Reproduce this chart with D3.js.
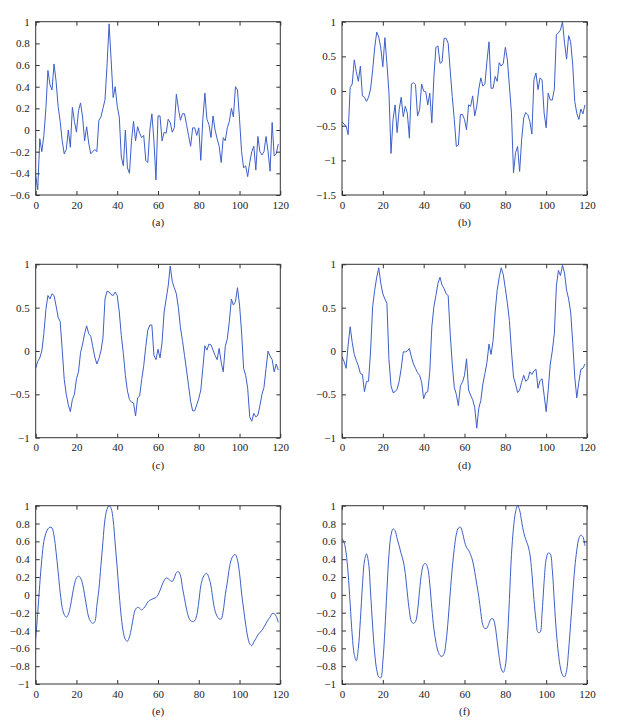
<!DOCTYPE html>
<html><head><meta charset="utf-8">
<script src="https://cdn.jsdelivr.net/npm/d3@7"></script>
<style>body{margin:0;background:#fff}</style>
</head><body>
<svg id="chart" width="622" height="724"></svg>
<script>
const seriesA = [-0.42,-0.55,-0.08,-0.2,-0.05,0.2,0.55,0.42,0.37,0.61,0.45,0.22,0.08,-0.1,-0.22,-0.18,0.0,-0.16,0.21,0.08,
-0.02,0.18,0.25,0.12,-0.1,0.03,-0.12,-0.22,-0.2,-0.18,-0.2,0.09,0.12,0.2,0.28,0.6,0.98,0.65,0.3,0.4,
0.22,0.12,-0.25,-0.33,0.0,-0.35,-0.4,-0.1,0.08,-0.1,0.03,-0.03,-0.07,-0.05,-0.28,-0.3,0.0,0.15,-0.1,-0.46,
0.13,0.13,-0.1,-0.02,-0.03,0.1,0.07,-0.02,0.02,0.33,0.2,0.09,0.15,0.15,0.05,-0.05,-0.15,0.02,0.02,-0.05,
0.02,-0.28,0.1,0.34,0.1,0.05,-0.07,0.13,0.0,-0.08,-0.15,-0.3,-0.07,-0.1,0.02,0.08,0.2,0.12,0.4,0.37,
0.1,-0.2,-0.35,-0.33,-0.43,-0.3,-0.2,-0.15,-0.37,-0.06,-0.2,-0.23,-0.2,-0.06,-0.2,-0.38,0.07,-0.24,-0.22,-0.13];

const seriesB = [-0.44,-0.48,-0.5,-0.63,0.05,0.1,0.45,0.28,0.14,0.36,-0.07,-0.09,-0.15,-0.09,0.03,0.3,0.62,0.85,0.78,0.62,
0.35,0.77,0.4,-0.03,-0.9,-0.41,-0.2,-0.6,-0.27,-0.09,-0.37,-0.22,-0.32,-0.68,0.1,0.12,0.09,-0.36,-0.27,0.1,
0.0,-0.01,-0.2,-0.03,-0.46,0.2,0.63,0.65,0.4,0.42,0.76,0.76,0.69,0.3,-0.08,-0.41,-0.8,-0.78,-0.34,-0.34,
-0.41,-0.56,-0.2,-0.22,-0.07,-0.36,-0.22,0.03,0.19,0.07,0.1,0.43,0.71,0.04,0.04,0.21,0.14,0.41,0.36,0.4,
0.63,0.45,0.07,-0.32,-1.18,-0.89,-0.8,-1.16,-0.7,-0.39,-0.31,-0.34,-0.44,-0.62,0.16,0.26,0.02,0.19,0.16,-0.32,
-0.53,-0.03,-0.13,-0.13,0.03,0.81,0.84,0.88,1.0,0.69,0.46,0.8,0.71,0.38,-0.15,-0.32,-0.41,-0.26,-0.33,-0.2];

const seriesC = [-0.2,-0.12,-0.08,0.0,0.2,0.48,0.64,0.6,0.66,0.64,0.52,0.39,0.34,0.02,-0.33,-0.5,-0.62,-0.7,-0.56,-0.5,
-0.32,-0.24,-0.02,0.08,0.2,0.29,0.2,0.17,0.05,-0.07,-0.15,-0.09,0.0,0.15,0.6,0.69,0.68,0.65,0.64,0.68,
0.64,0.45,0.18,-0.03,-0.28,-0.46,-0.56,-0.59,-0.6,-0.75,-0.54,-0.52,-0.33,-0.17,0.05,0.24,0.3,0.3,-0.05,-0.1,
0.02,-0.08,0.1,0.45,0.6,0.75,0.98,0.8,0.73,0.66,0.5,0.27,0.12,-0.05,-0.22,-0.4,-0.58,-0.69,-0.69,-0.62,
-0.55,-0.45,-0.2,0.06,0.01,0.08,0.07,0.01,-0.05,-0.1,0.03,-0.13,-0.24,0.05,0.14,0.34,0.6,0.53,0.57,0.73,
0.53,0.22,-0.2,-0.28,-0.43,-0.76,-0.81,-0.72,-0.76,-0.74,-0.63,-0.5,-0.42,-0.2,0.0,-0.06,-0.1,-0.24,-0.15,-0.22];

const seriesD = [-0.07,-0.12,-0.2,0.07,0.28,0.1,-0.04,-0.11,-0.17,-0.26,-0.27,-0.47,-0.35,-0.35,0.0,0.51,0.7,0.85,0.96,0.78,
0.66,0.6,0.55,-0.1,-0.4,-0.48,-0.47,-0.44,-0.35,-0.2,-0.01,-0.01,0.0,0.03,-0.07,-0.15,-0.2,-0.25,-0.28,-0.36,
-0.55,-0.48,-0.47,-0.24,0.28,0.51,0.64,0.78,0.85,0.76,0.72,0.66,0.64,0.2,-0.15,-0.42,-0.5,-0.63,-0.4,-0.36,
-0.28,-0.09,-0.45,-0.51,-0.56,-0.65,-0.89,-0.66,-0.57,-0.38,-0.26,-0.13,0.08,-0.04,0.12,0.45,0.7,0.85,0.96,0.88,
0.72,0.55,0.35,0.0,-0.3,-0.38,-0.48,-0.45,-0.36,-0.28,-0.35,-0.33,-0.24,-0.27,-0.23,-0.21,-0.43,-0.34,-0.32,-0.51,
-0.7,-0.45,-0.15,0.0,0.2,0.75,0.93,0.87,0.99,0.9,0.7,0.6,0.45,0.1,-0.3,-0.54,-0.36,-0.21,-0.2,-0.15];

const seriesE = [-0.49,-0.2,0.12,0.4,0.6,0.69,0.74,0.76,0.75,0.66,0.48,0.26,0.03,-0.14,-0.22,-0.25,-0.22,-0.13,0.0,0.12,
0.19,0.21,0.19,0.12,0.0,-0.14,-0.25,-0.3,-0.32,-0.3,-0.12,0.06,0.33,0.6,0.85,0.96,1.0,0.97,0.84,0.57,
0.3,0.0,-0.25,-0.42,-0.5,-0.52,-0.47,-0.37,-0.24,-0.16,-0.14,-0.15,-0.17,-0.15,-0.12,-0.08,-0.06,-0.05,-0.04,-0.03,
0.0,0.05,0.11,0.16,0.19,0.18,0.16,0.15,0.19,0.25,0.26,0.22,0.08,-0.04,-0.16,-0.25,-0.29,-0.3,-0.29,-0.23,
-0.08,0.1,0.19,0.23,0.24,0.19,0.1,-0.06,-0.18,-0.24,-0.27,-0.27,-0.18,0.0,0.14,0.3,0.4,0.44,0.45,0.39,
0.24,0.02,-0.16,-0.33,-0.47,-0.55,-0.57,-0.53,-0.49,-0.45,-0.42,-0.4,-0.36,-0.32,-0.28,-0.25,-0.21,-0.21,-0.24,-0.31];

const seriesF = [0.63,0.59,0.47,0.24,-0.1,-0.45,-0.67,-0.74,-0.6,-0.28,0.1,0.38,0.46,0.36,0.02,-0.35,-0.65,-0.84,-0.92,-0.93,
-0.75,-0.4,0.05,0.45,0.67,0.74,0.72,0.63,0.55,0.46,0.38,0.24,0.02,-0.18,-0.3,-0.32,-0.3,-0.18,0.05,0.25,
0.34,0.35,0.3,0.12,-0.15,-0.38,-0.53,-0.63,-0.68,-0.69,-0.66,-0.52,-0.28,0.02,0.3,0.52,0.68,0.75,0.76,0.7,
0.6,0.53,0.5,0.45,0.38,0.26,0.12,-0.02,-0.2,-0.34,-0.38,-0.37,-0.32,-0.27,-0.27,-0.35,-0.52,-0.7,-0.83,-0.87,
-0.8,-0.5,-0.05,0.45,0.75,0.93,1.0,0.95,0.82,0.7,0.62,0.56,0.46,0.25,-0.05,-0.28,-0.42,-0.42,-0.2,0.15,
0.4,0.47,0.46,0.28,-0.08,-0.42,-0.66,-0.82,-0.9,-0.92,-0.85,-0.62,-0.32,0.0,0.3,0.5,0.63,0.67,0.65,0.55];

const xTicks = [0, 20, 40, 60, 80, 100, 120];
const yTicksA = [-0.6, -0.4, -0.2, 0, 0.2, 0.4, 0.6, 0.8, 1];
const yTicksB = [-1.5, -1, -0.5, 0, 0.5, 1];
const yTicksCD = [-1, -0.5, 0, 0.5, 1];
const yTicksEF = [-1, -0.8, -0.6, -0.4, -0.2, 0, 0.2, 0.4, 0.6, 0.8, 1];
const captions = ["(a)", "(b)", "(c)", "(d)", "(e)", "(f)"];

const svg = d3.select("#chart");
const cols = [{l: 35.7, r: 280.3}, {l: 342, r: 587}];
const rows = [{t: 21.7, b: 195}, {t: 264.3, b: 437.7}, {t: 505.7, b: 684}];
const panels = [
  {data: seriesA, ticks: yTicksA, cap: captions[0], c: 0, r: 0, smooth: false},
  {data: seriesB, ticks: yTicksB, cap: captions[1], c: 1, r: 0, smooth: false},
  {data: seriesC, ticks: yTicksCD, cap: captions[2], c: 0, r: 1, smooth: false},
  {data: seriesD, ticks: yTicksCD, cap: captions[3], c: 1, r: 1, smooth: false},
  {data: seriesE, ticks: yTicksEF, cap: captions[4], c: 0, r: 2, smooth: true},
  {data: seriesF, ticks: yTicksEF, cap: captions[5], c: 1, r: 2, smooth: true}
];
const fmt = v => (v < 0 ? "\u2212" : "") + Math.abs(v);
const font = "'Liberation Serif', 'Times New Roman', serif";
const lineColor = "#3d5fc9";

panels.forEach((p, i) => {
  const L = cols[p.c].l, R = cols[p.c].r, T = rows[p.r].t, B = rows[p.r].b;
  const x = d3.scaleLinear().domain([0, 120]).range([L, R]);
  const y = d3.scaleLinear().domain([p.ticks[0], p.ticks[p.ticks.length - 1]]).range([B, T]);
  const g = svg.append("g");
  const clipId = "clip" + i;
  svg.append("clipPath").attr("id", clipId).append("rect")
    .attr("x", L).attr("y", T - 1).attr("width", R - L).attr("height", B - T + 2);

  const line = d3.line().x((d, k) => x(k)).y(d => y(d))
    .curve(p.smooth ? d3.curveCatmullRom.alpha(0.5) : d3.curveLinear);
  g.append("path").datum(p.data).attr("d", line)
    .attr("fill", "none").attr("stroke", lineColor).attr("stroke-width", 1)
    .attr("clip-path", `url(#${clipId})`);

  const styleAxis = a => {
    a.select(".domain").remove();
    a.selectAll(".tick line").attr("stroke", "#333");
    a.selectAll("text").attr("font-family", font).attr("font-size", 11).attr("fill", "#222");
  };
  g.append("g").attr("transform", `translate(0,${B})`)
    .call(d3.axisBottom(x).tickValues(xTicks).tickFormat(fmt).tickSizeInner(-4).tickSizeOuter(0).tickPadding(6))
    .call(styleAxis);
  g.append("g").attr("transform", `translate(0,${T})`)
    .call(d3.axisTop(x).tickValues(xTicks).tickFormat("").tickSizeInner(-4).tickSizeOuter(0))
    .call(styleAxis);
  g.append("g").attr("transform", `translate(${L},0)`)
    .call(d3.axisLeft(y).tickValues(p.ticks).tickFormat(fmt).tickSizeInner(-4).tickSizeOuter(0).tickPadding(6))
    .call(styleAxis);
  g.append("g").attr("transform", `translate(${R},0)`)
    .call(d3.axisRight(y).tickValues(p.ticks).tickFormat("").tickSizeInner(-4).tickSizeOuter(0))
    .call(styleAxis);
  g.append("rect").attr("x", L).attr("y", T).attr("width", R - L).attr("height", B - T)
    .attr("fill", "none").attr("stroke", "#333").attr("stroke-width", 1);
  g.append("text").attr("x", (L + R) / 2).attr("y", B + 27).attr("dy", "0.35em")
    .attr("text-anchor", "middle").attr("font-family", font).attr("font-size", 11).attr("fill", "#222")
    .text(p.cap);
});
</script>
</body></html>
